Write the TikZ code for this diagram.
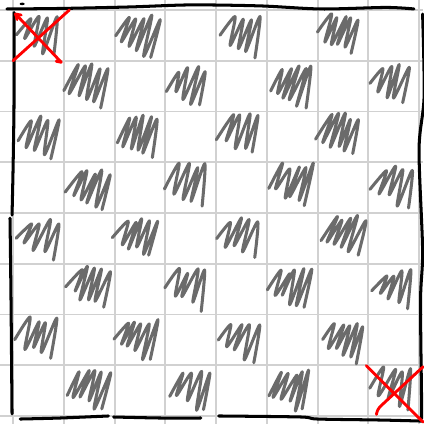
\documentclass[tikz,border=0pt]{standalone}
\usepackage{tikz}
\usetikzlibrary{calc}
\tikzset{
  gridline/.style={
    line width=1.1pt, color=black!18
  },
  boardline/.style={
    line width=1.7pt, line cap=round, line join=round, color=black
  },
  scribble/.style={
    line width=1.7pt, line cap=round, line join=round, color=black!58
  },
  crossmark/.style={
    line width=1.6pt, line cap=round, line join=round, color=red
  },
}

\begin{document}
\begin{tikzpicture}
  \useasboundingbox (-0.257,-0.158) rectangle (8.083,8.197);
  \fill[white] (-0.257,-0.158) rectangle (8.083,8.197);

  % ── Paper grid ─────────────────────────────────────────────────
  \draw[gridline] (-0.257,-0.158) grid (8.083,8.197);

  % ── Scribbled dark squares ─────────────────────────────────────
  \foreach \r in {0,...,7} {
    \foreach \k in {0,...,3} {
      \pgfmathtruncatemacro{\c}{2*\k+mod(\r+1,2)}
      \pgfmathsetseed{\r*17+\k*5+3}
      \pgfmathtruncatemacro{\n}{4+random(0,1)}
      \pgfmathsetmacro{\dx}{0.70/\n}
      \pgfmathsetmacro{\xa}{\c+0.03+0.05*rand}
      \pgfmathsetmacro{\ya}{\r+0.04*rand}
      \pgfmathsetmacro{\hi}{0.86+0.05*rand}
      \pgfmathtruncatemacro{\last}{2*\n}
      \pgfmathtruncatemacro{\ns}{\last+1}
      \draw[scribble] plot[smooth, tension=0.45, variable=\t,
                           samples=\ns, domain=0:\last]
        ({\xa + \dx*floor(round(\t)/2) + 0.28*mod(round(\t),2) + 0.035*rand},
         {\ya + mod(round(\t),2)*\hi
              + (1-mod(round(\t),2))*(0.46 - 0.36*floor(round(\t)/2)/\n)
              + 0.07*rand});
    }
  }

  % ── Hand-drawn board edge ──────────────────────────────────────
  % top
  \draw[boardline] plot[smooth] coordinates {
    (-0.12,8.02) (0.93,8.03) (2.31,8.06) (3.5,8.1)
    (4.88,8.08) (6.07,8.02) (7.35,8.05) (7.9,8.02)};
  % right
  \draw[boardline] plot[smooth] coordinates {
    (8.07,7.92) (8.1,6.3) (8.0,5.25) (8.07,3.27)
    (8.03,2.28) (8.05,0.3) (8.05,-0.05)};
  % bottom, in three strokes
  \draw[boardline] plot[smooth] coordinates {
    (0.14,-0.06) (0.93,-0.04) (1.88,0)};
  \draw[boardline] plot[smooth] coordinates {
    (1.98,-0.02) (2.9,-0.04) (3.7,-0.04)};
  \draw[boardline] plot[smooth] coordinates {
    (4.05,0) (5.67,-0.02) (6.0,-0.06) (7.25,-0.08) (8.05,-0.1)};
  % left, in two strokes
  \draw[boardline] plot[smooth] coordinates {
    (0.02,7.95) (0.02,6.23) (0,4.85) (-0.02,3.96)};
  \draw[boardline] plot[smooth] coordinates {
    (-0.06,3.9) (-0.04,2.29) (-0.02,0.04)};
  % stray dot
  \fill (0.18,8.12) ellipse (0.05 and 0.025);

  % ── Crossed-out corners ────────────────────────────────────────
  \draw[crossmark] (0.16,7.9) -- (0.05,7.92) -- (0.08,7.81);
  \draw[crossmark] (0.05,7.92) -- (0.95,6.97) -- (0.85,6.99);
  \draw[crossmark] (1.11,8.0) -- (0,7.0);

  \draw[crossmark] (6.96,0.99) -- (8.08,-0.12);
  \draw[crossmark] (8.08,0.97) -- (7.25,0.2)
    to[out=225, in=80] (7.16,0.03);
\end{tikzpicture}
\end{document}
